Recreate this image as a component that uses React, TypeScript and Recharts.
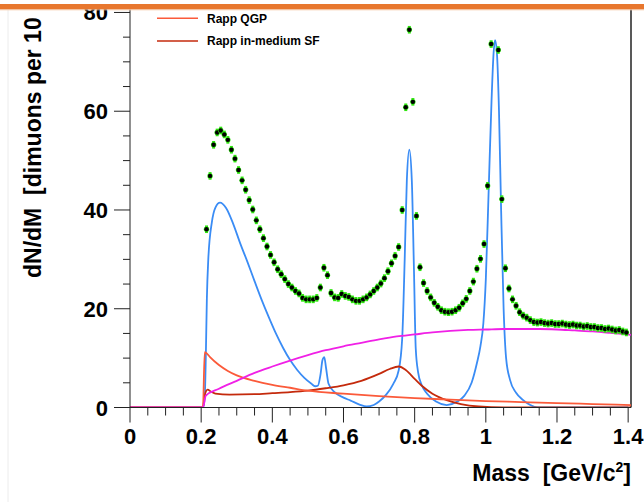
import { ComposedChart, Line, Scatter, XAxis, YAxis, ReferenceLine } from "recharts";

const FONT = '"Liberation Sans", Arial, Helvetica, sans-serif';

const X_MAX = 1.408;
const Y_MAX = 80.6;

const X_TICKS = [
  0, 0.05, 0.1, 0.15, 0.2, 0.25, 0.3, 0.35, 0.4, 0.45, 0.5, 0.55, 0.6, 0.65, 0.7,
  0.75, 0.8, 0.85, 0.9, 0.95, 1, 1.05, 1.1, 1.15, 1.2, 1.25, 1.3, 1.35, 1.4,
];
const X_LABELS = ["0", "0.2", "0.4", "0.6", "0.8", "1", "1.2", "1.4"];
const Y_TICKS = [0, 5, 10, 15, 20, 25, 30, 35, 40, 45, 50, 55, 60, 65, 70, 75, 80];
const Y_LABELS = ["0", "20", "40", "60", "80"];

// measured dimuons, 10 MeV bins starting at 0.215 (the phi-peak bin is off scale)
const BIN_START = 0.215;
const BIN_WIDTH = 0.01;
const DIMUONS: (number | null)[] = [
  36.1, 46.9, 53.2, 55.7, 56.1, 55.3, 54.2, 52.2, 50.4, 48.1,
  46.0, 44.1, 42.0, 40.1, 37.9, 36.1, 34.3, 32.6, 30.9, 29.4,
  28.0, 27.0, 26.0, 25.0, 24.3, 23.6, 23.1, 22.2, 21.9, 21.9,
  21.9, 22.2, 24.3, 28.3, 26.8, 23.2, 22.3, 22.2, 23.0, 22.6,
  22.4, 21.9, 21.6, 21.6, 21.9, 22.3, 22.9, 23.6, 24.3, 25.1,
  26.2, 27.6, 29.2, 30.7, 32.5, 40.0, 60.8, 76.5, 61.9, 38.8,
  28.4, 25.2, 23.6, 22.3, 21.2, 20.4, 19.7, 19.4, 19.3, 19.4,
  19.7, 20.2, 21.1, 22.0, 23.6, 25.5, 28.1, 30.1, 33.1, 44.9,
  73.6, null, 72.4, 42.2, 28.2, 24.1, 21.9, 20.6, 19.3, 18.6,
  18.2, 17.7, 17.3, 17.2, 17.3, 17.1, 17.0, 17.1, 16.9, 16.9,
  17.0, 16.8, 16.7, 16.8, 16.6, 16.6, 16.4, 16.5, 16.3, 16.3,
  16.1, 16.1, 15.9, 16.0, 15.8, 15.6, 15.7, 15.4, 15.2,
];

// cocktail (blue)
const COCKTAIL_M = [
  0, 0.205, 0.21, 0.213, 0.216, 0.22, 0.23, 0.24, 0.253, 0.27, 0.29, 0.31, 0.33,
  0.35, 0.37, 0.39, 0.41, 0.43, 0.45, 0.47, 0.49, 0.51, 0.52, 0.528, 0.535,
  0.541, 0.546, 0.551, 0.558, 0.575, 0.6, 0.62, 0.645, 0.665, 0.685, 0.7, 0.72,
  0.74, 0.755, 0.765, 0.772, 0.778, 0.785, 0.792, 0.798, 0.803, 0.81, 0.82,
  0.835, 0.86, 0.89, 0.92, 0.94, 0.96, 0.975, 0.985, 0.993, 1.0, 1.008, 1.016,
  1.022, 1.026, 1.031, 1.037, 1.043, 1.05, 1.057, 1.068, 1.085, 1.105, 1.125,
  1.145, 1.4,
];
const COCKTAIL_V = [
  0, 0, 2, 10, 22, 30, 37.5, 40.5, 41.5, 40.4, 37.2, 33.2, 29.5,
  25.6, 21.8, 18.3, 15.0, 12.1, 9.6, 7.6, 6.0, 4.8, 4.3, 4.4, 6.5,
  9.6, 10.2, 8.0, 4.8, 3.1, 2.0, 1.4, 0.6, 0.2, 0.5, 1.2, 2.6,
  4.8, 7.5, 14, 30, 46, 52.2, 46, 28, 12, 7, 4.5,
  2.8, 1.2, 0.5, 1.2, 2.4, 5, 9, 12.5, 17, 26, 44, 62,
  72, 74.4, 72, 60, 40, 20, 10, 5.6, 3, 1.5, 0.5,
  0, 0,
];

// magenta curve
const CONT_M = [0, 0.205, 0.213, 0.25, 0.3, 0.35, 0.4, 0.45, 0.5, 0.55, 0.6, 0.65, 0.7, 0.75, 0.8, 0.85, 0.9, 0.95, 1.0, 1.05, 1.1, 1.15, 1.2, 1.25, 1.3, 1.35, 1.408];
const CONT_V = [0, 0, 2.4, 3.8, 5.4, 7.0, 8.3, 9.5, 10.6, 11.6, 12.4, 13.1, 13.8, 14.4, 14.8, 15.2, 15.5, 15.7, 15.8, 15.9, 15.9, 15.9, 15.8, 15.6, 15.4, 15.1, 14.7];

// Rapp QGP
const QGP_M = [0, 0.205, 0.21, 0.215, 0.225, 0.25, 0.275, 0.3, 0.35, 0.4, 0.45, 0.5, 0.6, 0.7, 0.8, 0.9, 1.0, 1.1, 1.2, 1.3, 1.408];
const QGP_V = [0, 0, 11.2, 11.0, 10.2, 8.6, 7.4, 6.5, 5.4, 4.6, 4.0, 3.4, 2.8, 2.3, 1.9, 1.6, 1.3, 1.1, 0.9, 0.7, 0.5];

// Rapp in-medium SF
const SF_M = [0, 0.205, 0.21, 0.218, 0.228, 0.24, 0.28, 0.35, 0.4, 0.45, 0.5, 0.55, 0.6, 0.65, 0.7, 0.73, 0.755, 0.775, 0.8, 0.82, 0.85, 0.89, 0.93, 0.98, 1.05, 1.408];
const SF_V = [0, 0, 2.5, 3.6, 3.2, 2.8, 2.6, 2.7, 2.9, 3.1, 3.4, 3.9, 4.5, 5.4, 6.8, 7.8, 8.3, 7.6, 5.8, 4.4, 2.8, 1.5, 0.7, 0.2, 0, 0];

const zip = (m: number[], v: number[]) => m.map((x, i) => ({ m: x, v: v[i] }));

const points = DIMUONS.map((v, i) => ({ m: BIN_START + i * BIN_WIDTH, v })).filter(
  (p) => p.v !== null
);

const near = (a: number, b: number) => Math.abs(a - b) < 1e-6;

function XTick(props: any) {
  const { x, y, payload } = props;
  const v = payload.value as number;
  const major = near(v * 5, Math.round(v * 5));
  const label = X_LABELS[Math.round(v * 5)];
  return (
    <g>
      <line x1={x} x2={x} y1={y} y2={y + (major ? 15 : 8)} stroke="#222" strokeWidth={1} />
      {major && (
        <text x={x} y={y + 36.5} textAnchor="middle" fontFamily={FONT} fontWeight="bold" fontSize={22} fill="#000">
          {label}
        </text>
      )}
    </g>
  );
}

function YTick(props: any) {
  const { x, y, payload } = props;
  const v = payload.value as number;
  const major = v % 20 === 0;
  return (
    <g>
      <line x1={x - (major ? 16 : 7)} x2={x} y1={y} y2={y} stroke="#222" strokeWidth={1} />
      {major && (
        <text x={x - 22} y={y + 8} textAnchor="end" fontFamily={FONT} fontWeight="bold" fontSize={22} fill="#000">
          {Y_LABELS[v / 20]}
        </text>
      )}
    </g>
  );
}

function DataDot(props: any) {
  const { cx, cy } = props;
  if (cx == null || cy == null) return null;
  return (
    <g>
      <rect x={cx - 1.5} y={cy - 3.8} width={3} height={7.6} fill="#2ee60f" />
      <circle cx={cx} cy={cy} r={2.7} fill="#2ee60f" />
      <circle cx={cx} cy={cy} r={2.2} fill="#000" />
    </g>
  );
}

export default function App() {
  return (
    <div style={{ position: "absolute", left: 0, top: 0, width: 644, height: 502, background: "#fff" }}>
      <ComposedChart width={644} height={502} margin={{ top: 9.5, right: 13, bottom: 54.5, left: 70 }}>
        <XAxis
          type="number"
          dataKey="m"
          domain={[0, X_MAX]}
          ticks={X_TICKS}
          interval={0}
          allowDataOverflow
          height={40}
          tickSize={0}
          tickMargin={0}
          tickLine={false}
          axisLine={{ stroke: "#222", strokeWidth: 1 }}
          tick={(p: any) => <XTick {...p} />}
        />
        <YAxis
          type="number"
          dataKey="v"
          domain={[0, Y_MAX]}
          ticks={Y_TICKS}
          interval={0}
          allowDataOverflow
          width={60}
          tickSize={0}
          tickMargin={0}
          tickLine={false}
          axisLine={{ stroke: "#222", strokeWidth: 1 }}
          tick={(p: any) => <YTick {...p} />}
        />
        <ReferenceLine x={X_MAX} stroke="#222" strokeWidth={1.5} />
        <Line data={zip(COCKTAIL_M, COCKTAIL_V)} dataKey="v" type="monotone" stroke="#3a8cf5" strokeWidth={1.8} dot={false} isAnimationActive={false} />
        <Line data={zip(SF_M, SF_V)} dataKey="v" type="monotone" stroke="#c42a0c" strokeWidth={1.8} dot={false} isAnimationActive={false} />
        <Line data={zip(QGP_M, QGP_V)} dataKey="v" type="monotone" stroke="#fb5a3a" strokeWidth={1.8} dot={false} isAnimationActive={false} />
        <Line data={zip(CONT_M, CONT_V)} dataKey="v" type="monotone" stroke="#f020e6" strokeWidth={1.8} dot={false} isAnimationActive={false} />
        <Scatter data={points} dataKey="v" shape={(p: any) => <DataDot {...p} />} isAnimationActive={false} />
      </ComposedChart>
      <svg width={644} height={502} style={{ position: "absolute", left: 0, top: 0, pointerEvents: "none" }}>
        <line x1={8} x2={8} y1={10} y2={502} stroke="#ececec" strokeWidth={1} />
        <text
          transform="translate(33,278) rotate(-90)"
          textAnchor="start"
          dy="0.36em"
          fontFamily={FONT}
          fontWeight="bold"
          fontSize={23}
          fill="#000"
          style={{ whiteSpace: "pre" }}
        >
          {"dN/dM  [dimuons per 10"}
        </text>
        <rect x={0} y={0} width={644} height={4} fill="#fff" />
        <rect x={0} y={4} width={644} height={5.5} fill="#e8772e" />
        <rect x={0} y={9.5} width={644} height={0.8} fill="#f6c9a8" />
        <line x1={157} x2={198} y1={18.3} y2={18.3} stroke="#fb5a3a" strokeWidth={1.5} />
        <text x={207} y={22.5} fontFamily={FONT} fontWeight="bold" fontSize={12} fill="#000">Rapp QGP</text>
        <line x1={157} x2={198} y1={41} y2={41} stroke="#c42a0c" strokeWidth={1.5} />
        <text x={207} y={45.2} fontFamily={FONT} fontWeight="bold" fontSize={12} fill="#000">Rapp in-medium SF</text>
        <text x={631} y={481} textAnchor="end" fontFamily={FONT} fontWeight="bold" fontSize={23} fill="#000" style={{ whiteSpace: "pre" }}>
          {"Mass  [GeV/c"}
          <tspan dy={-9} fontSize={14}>2</tspan>
          <tspan dy={9}>]</tspan>
        </text>
      </svg>
    </div>
  );
}
